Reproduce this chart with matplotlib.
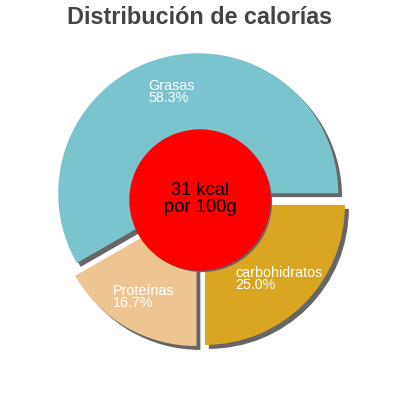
import matplotlib
matplotlib.use('Agg')
import matplotlib.pyplot as plt
import matplotlib.patheffects as pe

plt.rcParams['font.family'] = ['Liberation Sans', 'DejaVu Sans']

labels = ['Grasas', 'Proteínas', 'carbohidratos']
values = [58.3, 16.7, 25.0]
colors = ['#7ac5cd', '#eec591', '#daa520']
title = 'Distribución de calorías'
center_text = '31 kcal\npor 100g'

fig = plt.figure(figsize=(4, 4), dpi=100)
ax = fig.add_axes([0, 0, 1, 1])

shadow = [pe.SimplePatchShadow(offset=(2.8, -2.8), shadow_rgbFace='#666666', alpha=1.0), pe.Normal()]

# radius 140 px, slices pushed out by ~7 px
texts = [l + '\n' + '%.1f%%' % v for l, v in zip(labels, values)]
wedges, txts = ax.pie(values, labels=texts, colors=colors, startangle=0, counterclock=True,
                      explode=[7] * len(values), radius=140, center=(0, 0),
                      labeldistance=0.75, frame=True,
                      textprops=dict(color='white', fontsize=10.3, ha='center', va='center',
                                     multialignment='left', linespacing=0.85))
for w in wedges:
    w.set_path_effects(shadow)
    w.set_linewidth(0)
ax.set_xlim(-200, 200)
ax.set_ylim(-200, 200)
ax.set_aspect('equal')
ax.axis('off')

circ = plt.Circle((0, 0), 70, color='#ff0000', zorder=5)
circ.set_path_effects([pe.SimplePatchShadow(offset=(1.5, -1.5), shadow_rgbFace='#666666', alpha=1.0), pe.Normal()])
ax.add_patch(circ)
ax.text(0, 1, center_text, ha='center', va='center', fontsize=13.2, color='black',
        zorder=6, linespacing=0.95)

fig.text(0.5, 0.955, title, ha='center', va='center', fontsize=16.8, fontweight='bold', color='#444444')

fig.savefig('out.png', dpi=100)
